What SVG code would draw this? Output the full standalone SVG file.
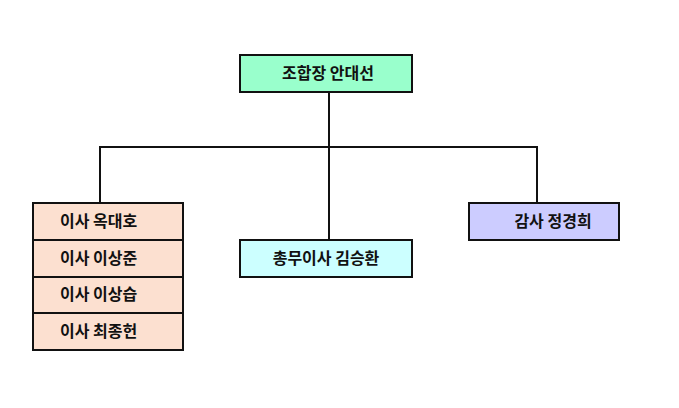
<svg xmlns="http://www.w3.org/2000/svg" width="679" height="408" viewBox="0 0 679 408">
<style>
.b{stroke:#111;stroke-width:2}
.t{font-family:"Noto Sans CJK KR","Liberation Sans",sans-serif;font-size:16px;font-weight:bold;fill:#111}
.c{fill:none;stroke:#111;stroke-width:2}
</style>
<rect width="679" height="408" fill="#fff"/>
<g id="connectors">
<path class="c" d="M329 92V240M100 203V147H537V203"/>
</g>
<g id="n-top"><rect class="b" x="240" y="55" width="172" height="37" fill="#99FFCC"/><text class="t" x="328" y="79" text-anchor="middle">조합장 안대선</text></g>
<g id="n-left">
<rect class="b" x="33" y="203" width="150" height="37" fill="#FCE0D0"/><text class="t" x="60" y="227">이사   옥대호</text>
<rect class="b" x="33" y="240" width="150" height="37" fill="#FCE0D0"/><text class="t" x="60" y="264">이사   이상준</text>
<rect class="b" x="33" y="277" width="150" height="36" fill="#FCE0D0"/><text class="t" x="60" y="300">이사   이상습</text>
<rect class="b" x="33" y="313" width="150" height="37" fill="#FCE0D0"/><text class="t" x="60" y="337">이사   최종헌</text>
</g>
<g id="n-mid"><rect class="b" x="240" y="240" width="172" height="37" fill="#CCFFFF"/><text class="t" x="326" y="264" text-anchor="middle">총무이사   김승환</text></g>
<g id="n-right"><rect class="b" x="469" y="203" width="150" height="37" fill="#CCCCFF"/><text class="t" x="553" y="227" text-anchor="middle">감사   정경희</text></g>
</svg>
